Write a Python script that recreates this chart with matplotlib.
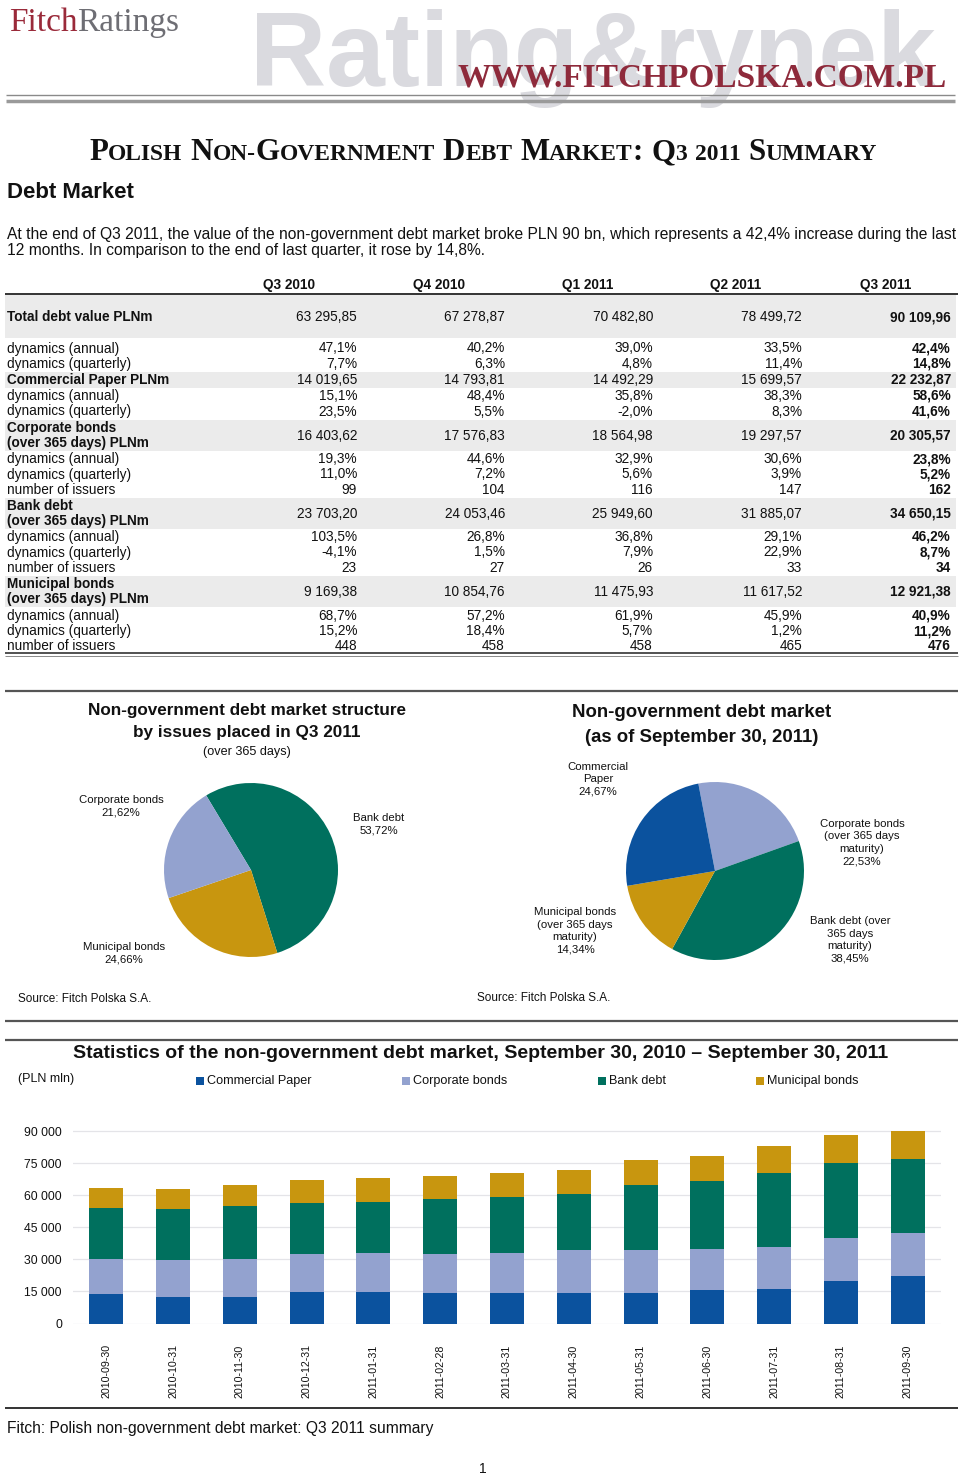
import matplotlib
matplotlib.use('Agg')
import matplotlib.pyplot as plt
from matplotlib.patches import Rectangle
from matplotlib.lines import Line2D
import numpy as np

plt.rcParams['font.family'] = ['Liberation Sans', 'DejaVu Sans']

# ---------------- data ----------------
quarters = ['Q3 2010', 'Q4 2010', 'Q1 2011', 'Q2 2011', 'Q3 2011']
total_value = [63295.85, 67278.87, 70482.80, 78499.72, 90109.96]
total_dyn_annual = [47.1, 40.2, 39.0, 33.5, 42.4]
total_dyn_quarterly = [7.7, 6.3, 4.8, 11.4, 14.8]
cp_value = [14019.65, 14793.81, 14492.29, 15699.57, 22232.87]
cp_dyn_annual = [15.1, 48.4, 35.8, 38.3, 58.6]
cp_dyn_quarterly = [23.5, 5.5, -2.0, 8.3, 41.6]
corp_value = [16403.62, 17576.83, 18564.98, 19297.57, 20305.57]
corp_dyn_annual = [19.3, 44.6, 32.9, 30.6, 23.8]
corp_dyn_quarterly = [11.0, 7.2, 5.6, 3.9, 5.2]
corp_issuers = [99, 104, 116, 147, 162]
bank_value = [23703.20, 24053.46, 25949.60, 31885.07, 34650.15]
bank_dyn_annual = [103.5, 26.8, 36.8, 29.1, 46.2]
bank_dyn_quarterly = [-4.1, 1.5, 7.9, 22.9, 8.7]
bank_issuers = [23, 27, 26, 33, 34]
muni_value = [9169.38, 10854.76, 11475.93, 11617.52, 12921.38]
muni_dyn_annual = [68.7, 57.2, 61.9, 45.9, 40.9]
muni_dyn_quarterly = [15.2, 18.4, 5.7, 1.2, 11.2]
muni_issuers = [448, 458, 458, 465, 476]

pie1_labels = ['Bank debt', 'Municipal bonds', 'Corporate bonds']
pie1_values = [53.72, 24.66, 21.62]
pie2_labels = ['Corporate bonds\n(over 365 days\nmaturity)', 'Bank debt (over\n365 days\nmaturity)',
               'Municipal bonds\n(over 365 days\nmaturity)', 'Commercial\nPaper']
pie2_values = [22.53, 38.45, 14.34, 24.67]

dates = ['2010-09-30', '2010-10-31', '2010-11-30', '2010-12-31', '2011-01-31', '2011-02-28',
         '2011-03-31', '2011-04-30', '2011-05-31', '2011-06-30', '2011-07-31', '2011-08-31',
         '2011-09-30']
series_names = ['Commercial Paper', 'Corporate bonds', 'Bank debt', 'Municipal bonds']
commercial_paper = [14020, 12200, 12200, 14794, 14800, 14300, 14492, 14400, 14400, 15700, 16000, 20100, 22233]
corporate_bonds = [16404, 17600, 18200, 17577, 18100, 18100, 18565, 19900, 19900, 19298, 19600, 20000, 20306]
bank_debt = [23703, 23800, 24500, 24053, 24000, 25800, 25950, 26500, 30400, 31885, 34900, 34900, 34650]
municipal_bonds = [9169, 9200, 9800, 10855, 11100, 11000, 11476, 11100, 11700, 11618, 12500, 13100, 12921]
yticks = [0, 15000, 30000, 45000, 60000, 75000, 90000]

C_CP = '#0B529E'
C_CORP = '#93A2CF'
C_BANK = '#00705E'
C_MUNI = '#C8960F'
colors = {'Commercial Paper': C_CP, 'Corporate bonds': C_CORP, 'Bank debt': C_BANK, 'Municipal bonds': C_MUNI}

# ---------------- helpers ----------------
W, H = 960, 1476
fig = plt.figure(figsize=(9.6, 14.76), dpi=100)
fig.patch.set_facecolor('white')
renderer = fig.canvas.get_renderer()
TXT = '#111111'


def fx(x):
    return x / W


def fy(y):
    return 1 - y / H


def txt(x, y, s, size=10, ha='left', va='center', weight='normal', color=TXT, **kw):
    return fig.text(fx(x), fy(y), s, fontsize=size, ha=ha, va=va, fontweight=weight, color=color, **kw)


def hline(y, x0=5, x1=958, color='#444444', lw=1.5):
    fig.add_artist(Line2D([fx(x0), fx(x1)], [fy(y), fy(y)], transform=fig.transFigure,
                          color=color, lw=lw, solid_capstyle='butt', zorder=2))


def band(y0, y1, x0=5, x1=956, color='#EBEBEB'):
    fig.add_artist(Rectangle((fx(x0), fy(y1)), fx(x1) - fx(x0), (y1 - y0) / H,
                             transform=fig.transFigure, facecolor=color, edgecolor='none', zorder=0))


def runs(x, y, parts, **common):
    cx = x
    for s, kw in parts:
        if s is None:
            cx += kw
            continue
        t = fig.text(fx(cx), fy(y), s, ha='left', va='baseline', **{**common, **kw})
        cx += t.get_window_extent(renderer).width
    return cx


def fmt_money(v):
    return f'{v:,.2f}'.replace(',', ' ').replace('.', ',')


def fmt_pct(v):
    return f'{v:.1f}%'.replace('.', ',')


# ---------------- header ----------------
txt(250, 86, 'Rating&rynek', size=76, weight='bold', color='#DADADF', va='baseline', zorder=1)
runs(9, 31, [('Fitch', dict(color='#9A2A3A')), ('Ratings', dict(color='#6E6E74'))],
     fontsize=24, family='Liberation Serif')
txt(947, 78, 'WWW.FITCHPOLSKA.COM.PL', size=24, weight='bold', ha='right',
    family='Liberation Serif', color='#8E2A3B', zorder=3)
hline(95, 6, 955, color='#8A8A8A', lw=1.0)
hline(100.5, 6, 955, color='#9A9A9A', lw=2.5)

# small-caps title
B = dict(fontsize=22.2, fontweight='bold', family='Liberation Serif', color='#111111')
S = dict(fontsize=16.9, fontweight='bold', family='Liberation Serif', color='#111111')
gap = 8
runs(89, 160, [('P', B), ('OLISH', S), (None, gap), ('N', B), ('ON-', S), ('G', B), ('OVERNMENT', S),
               (None, gap), ('D', B), ('EBT', S), (None, gap), ('M', B), ('ARKET', S), (':', B),
               (None, gap), ('Q', B), ('3', S), (None, gap), ('2011', S), (None, gap), ('S', B),
               ('UMMARY', S)])

txt(7, 193, 'Debt Market', size=16, weight='bold')
txt(7, 234, 'At the end of Q3 2011, the value of the non-government debt market broke PLN 90 bn, '
            'which represents a 42,4% increase during the last', size=11.28)
txt(7, 251, '12 months. In comparison to the end of last quarter, it rose by 14,8%.', size=11.28)

# ---------------- table ----------------
head_x = [289, 439, 588, 736, 886]
val_x = [357, 505, 653, 802, 951]
TS = 9.8
for q, hx in zip(quarters, head_x):
    txt(hx, 285, q, size=TS, ha='center', weight='bold')
hline(294, 5, 958, color='#333333', lw=1.4)

rows = [
    (['Total debt value PLNm'], total_value, 'm', [317], (295, 338)),
    (['dynamics (annual)'], total_dyn_annual, 'p', [348.5], None),
    (['dynamics (quarterly)'], total_dyn_quarterly, 'p', [364], None),
    (['Commercial Paper PLNm'], cp_value, 'm', [380], (372, 388)),
    (['dynamics (annual)'], cp_dyn_annual, 'p', [396], None),
    (['dynamics (quarterly)'], cp_dyn_quarterly, 'p', [411.5], None),
    (['Corporate bonds', '(over 365 days) PLNm'], corp_value, 'm', [428, 443], (420, 451)),
    (['dynamics (annual)'], corp_dyn_annual, 'p', [459], None),
    (['dynamics (quarterly)'], corp_dyn_quarterly, 'p', [474.5], None),
    (['number of issuers'], corp_issuers, 'n', [490], None),
    (['Bank debt', '(over 365 days) PLNm'], bank_value, 'm', [506, 521], (498, 529)),
    (['dynamics (annual)'], bank_dyn_annual, 'p', [537], None),
    (['dynamics (quarterly)'], bank_dyn_quarterly, 'p', [552.5], None),
    (['number of issuers'], bank_issuers, 'n', [568], None),
    (['Municipal bonds', '(over 365 days) PLNm'], muni_value, 'm', [584, 599], (576, 607)),
    (['dynamics (annual)'], muni_dyn_annual, 'p', [615.5], None),
    (['dynamics (quarterly)'], muni_dyn_quarterly, 'p', [631], None),
    (['number of issuers'], muni_issuers, 'n', [646.5], None),
]
for labels, vals, kind, ys, bnd in rows:
    bold = bnd is not None
    if bnd:
        band(*bnd)
    for lab, yy in zip(labels, ys):
        txt(7, yy, lab, size=TS, weight='bold' if bold else 'normal')
    yv = sum(ys) / len(ys)
    for i, (v, vx) in enumerate(zip(vals, val_x)):
        s = fmt_money(v) if kind == 'm' else (fmt_pct(v) if kind == 'p' else str(v))
        txt(vx, yv, s, size=TS, ha='right', weight='bold' if i == 4 else 'normal')
hline(652.5, 5, 958, color='#333333', lw=1.2)
hline(655.5, 5, 958, color='#777777', lw=0.6)

# ---------------- pies ----------------
hline(691, 5, 958, color='#555555', lw=1.6)


def pie_ax(cx, cy, r):
    ax = fig.add_axes([fx(cx - r), fy(cy + r), 2 * r / W, 2 * r / H])
    return ax


ax1 = pie_ax(251, 870, 87)
ax1.pie(pie1_values, colors=[colors[n] for n in pie1_labels], startangle=121, counterclock=False,
        wedgeprops=dict(linewidth=0))
ax1.set_xlim(-1, 1); ax1.set_ylim(-1, 1); ax1.axis('off')

ax2 = pie_ax(715, 871, 89)
ax2.pie(pie2_values, colors=[C_CORP, C_BANK, C_MUNI, C_CP], startangle=100.8, counterclock=False,
        wedgeprops=dict(linewidth=0))
ax2.set_xlim(-1, 1); ax2.set_ylim(-1, 1); ax2.axis('off')

txt(247, 711, 'Non-government debt market structure', size=12.3, weight='bold', ha='center')
txt(247, 733, 'by issues placed in Q3 2011', size=12.3, weight='bold', ha='center')
txt(247, 752, '(over 365 days)', size=9.1, ha='center')
txt(702, 713, 'Non-government debt market', size=13.4, weight='bold', ha='center')
txt(702, 737, '(as of September 30, 2011)', size=13.4, weight='bold', ha='center')

PL = 8.2


def pct(v):
    return f'{v:.2f}%'.replace('.', ',')


txt(121, 806, f'{pie1_labels[2]}\n{pct(pie1_values[2])}', size=PL, ha='center', linespacing=1.35)
txt(379, 824, f'{pie1_labels[0]}\n{pct(pie1_values[0])}', size=PL, ha='center', linespacing=1.35)
txt(124, 953, f'{pie1_labels[1]}\n{pct(pie1_values[1])}', size=PL, ha='center', linespacing=1.35)

pie2_pos = [(862, 842.5), (850, 940), (575, 931), (598, 779.5)]
for lab, v, (px, py) in zip(pie2_labels, pie2_values, pie2_pos):
    txt(px, py, f'{lab}\n{pct(v)}', size=PL, ha='center', linespacing=1.3)

txt(18, 999, 'Source: Fitch Polska S.A.', size=8.5)
txt(477, 998, 'Source: Fitch Polska S.A.', size=8.5)

hline(1021, 5, 958, color='#555555', lw=1.6)
hline(1040, 5, 958, color='#555555', lw=1.6)

# ---------------- stacked bars ----------------
txt(481, 1053, 'Statistics of the non-government debt market, September 30, 2010 \u2013 September 30, 2011',
    size=14.0, weight='bold', ha='center')
txt(18, 1079, '(PLN mln)', size=9)
leg_x = [196, 402, 598, 756]
for name, lx in zip(series_names, leg_x):
    fig.add_artist(Rectangle((fx(lx), fy(1085)), 8 / W, 8 / H, transform=fig.transFigure,
                             facecolor=colors[name], edgecolor='none'))
    txt(lx + 11, 1081, name, size=9.1)

y0px, y1px = 1323.5, 1114.9
ymax = 90000 * (y0px - y1px) / (y0px - 1131.3)
axb = fig.add_axes([fx(73), fy(y0px), (941 - 73) / W, (y0px - y1px) / H])
xpos = np.arange(len(dates))
bottom = np.zeros(len(dates))
for name, vals in zip(series_names, [commercial_paper, corporate_bonds, bank_debt, municipal_bonds]):
    axb.bar(xpos, vals, 0.51, bottom=bottom, color=colors[name], zorder=2, linewidth=0)
    bottom += np.array(vals)
axb.set_xlim(-0.5, len(dates) - 0.5)
axb.set_ylim(0, ymax)
axb.set_yticks(yticks)
axb.set_yticklabels([f'{v:,}'.replace(',', ' ') for v in yticks], fontsize=8.8, color=TXT)
axb.set_xticks(xpos)
axb.set_xticklabels(dates, rotation=90, fontsize=7.7, color=TXT, va='top')
axb.grid(axis='y', color='#E4E4E8', lw=0.9, zorder=0)
for sp in axb.spines.values():
    sp.set_visible(False)
axb.tick_params(axis='y', length=0, pad=8)
axb.tick_params(axis='x', length=0, pad=15)
axb.set_facecolor('none')

hline(1408, 5, 958, color='#333333', lw=1.4)
txt(7, 1428, 'Fitch: Polish non-government debt market: Q3 2011 summary', size=11.25)
txt(483, 1469, '1', size=10, ha='center')

fig.savefig('out.png', dpi=100, facecolor='white')
